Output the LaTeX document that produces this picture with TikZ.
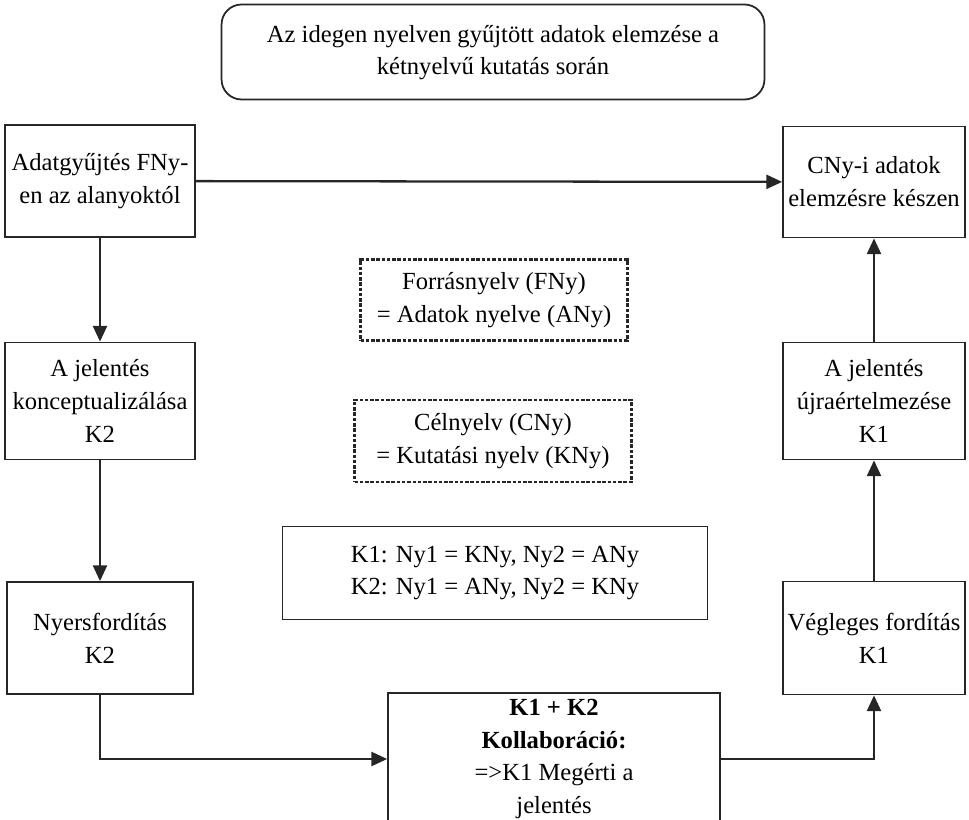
\documentclass[tikz,border=0pt]{standalone}
\usepackage{fontspec}
\setmainfont{Liberation Serif}
\usetikzlibrary{arrows.meta}
\tikzset{boxplain/.style={draw=black!85,line width=1pt,align=center,inner sep=2pt,font=\fontsize{14}{18.7}\selectfont}}
\tikzset{boxdotted/.style={boxplain,dash pattern=on 2pt off 1pt,line width=1.4pt}}
\tikzset{arrowblack/.style={-{Triangle[length=9pt,width=8pt]},line width=1.3pt,draw=black!85}}

\begin{document}
\begin{tikzpicture}[x=0.02cm,y=-0.02cm]
\useasboundingbox (0,0) rectangle (969,820);
\clip (0,0) rectangle (969,820);

% Title box on top
\node[boxplain, rounded corners=0.4cm, minimum width=10.86cm, minimum height=1.9cm] at (493,52) (title) {\raisebox{-3pt}{\begin{tabular}{c}Az idegen nyelven gyűjtött adatok elemzése a\\kétnyelvű kutatás során\end{tabular}}};

% Left column
\node[boxplain, minimum width=3.8cm, minimum height=2.24cm] at (100,181) (gyujt) {Adatgyűjtés FNy-\\en az alanyoktól};
\node[boxplain, minimum width=3.8cm, minimum height=2.34cm] at (100,401) (konc) {A jelentés\\konceptualizálása\\K2};
\node[boxplain, minimum width=3.72cm, minimum height=2.24cm] at (100,638) (nyers) {Nyersfordítás\\K2};

% Right column
\node[boxplain, minimum width=3.64cm, minimum height=2.22cm] at (874,182) (kesz) {CNy-i adatok\\elemzésre készen};
\node[boxplain, minimum width=3.64cm, minimum height=2.34cm] at (874,401) (ujra) {A jelentés\\újraértelmezése\\K1};
\node[boxplain, minimum width=3.64cm, minimum height=2.26cm] at (874,638) (vegl) {Végleges fordítás\\K1};

% Legend boxes in the middle
\node[boxdotted, minimum width=5.34cm, minimum height=1.62cm] at (494,300) (fny) {Forrásnyelv (FNy)\\= Adatok nyelve (ANy)};
\node[boxdotted, minimum width=5.54cm, minimum height=1.64cm] at (493,441) (cny) {Célnyelv (CNy)\\= Kutatási nyelv (KNy)};
\node[boxplain, minimum width=8.5cm, minimum height=1.86cm] at (495,573) (kulcs) {K1: Ny1 = KNy, Ny2 = ANy\\K2: Ny1 = ANy, Ny2 = KNy};

% Collaboration box (runs off the bottom)
\node[boxplain, minimum width=6.64cm, minimum height=2.64cm] at (554,759) (kollab) {\textbf{K1 + K2}\\\textbf{Kollaboráció:}\\=>K1 Megérti a\\jelentés};

% Arrows
\draw[arrowblack] (gyujt) -- (kesz);
\draw[arrowblack] (gyujt) -- (konc);
\draw[arrowblack] (konc) -- (nyers);
\draw[arrowblack] (nyers.south) |- (kollab.west);
\draw[arrowblack] (kollab.east) -| (vegl.south);
\draw[arrowblack] (vegl) -- (ujra);
\draw[arrowblack] (ujra) -- (kesz);

\end{tikzpicture}
\end{document}
